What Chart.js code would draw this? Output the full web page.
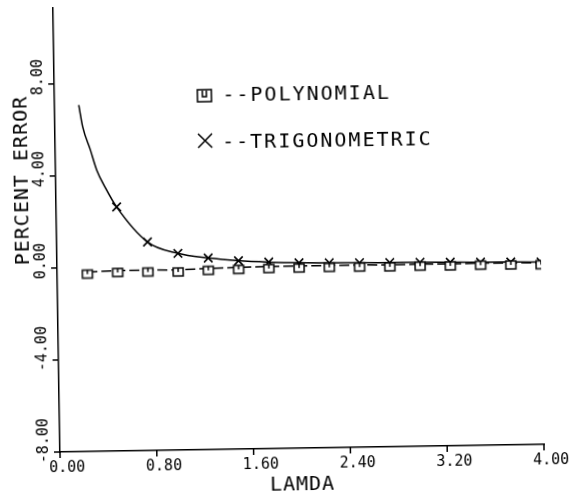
<!DOCTYPE html>
<html><head><meta charset="utf-8">
<script src="https://cdn.jsdelivr.net/npm/chart.js@4/dist/chart.umd.min.js"></script>
<style>
html,body{margin:0;padding:0;background:#fff;overflow:hidden}
#c{display:block;transform:rotate(-0.9deg);transform-origin:60px 452px}
</style>
</head><body>
<canvas id="c" width="570" height="496"></canvas>
<script>
// ---- data ----
const xTickValues = [0, 0.8, 1.6, 2.4, 3.2, 4.0];
const xTickLabels = ['0.00', '0.80', '1.60', '2.40', '3.20', '4.00'];
const yTickValues = [-8, -4, 0, 4, 8];
const yTickLabels = ['-8.00', '-4.00', '0.00', '4.00', '8.00'];

const polyX = [0.25, 0.5, 0.75, 1.0, 1.25, 1.5, 1.75, 2.0, 2.25, 2.5, 2.75, 3.0, 3.25, 3.5, 3.75, 4.0];
const polyY = [-0.20, -0.15, -0.15, -0.17, -0.12, -0.10, -0.08, -0.08, -0.07, -0.08, -0.09, -0.08, -0.09, -0.08, -0.09, -0.10];

const trigX = [0.20, 0.23, 0.29, 0.34, 0.41, 0.5, 0.75, 1.0, 1.25, 1.5, 1.75, 2.0, 2.25, 2.5, 2.75, 3.0, 3.25, 3.5, 3.75, 4.0];
const trigY = [7.07, 6.11, 5.11, 4.23, 3.45, 2.61, 1.07, 0.55, 0.33, 0.19, 0.11, 0.06, 0.04, 0.02, 0.01, 0.00, -0.02, -0.04, -0.05, -0.07];
const trigMarkerFrom = 0.5;

const seriesNames = ['POLYNOMIAL', 'TRIGONOMETRIC'];
const xTitle = 'LAMDA';
const yTitle = 'PERCENT ERROR';

// ---- marker image for the polynomial squares ----
function squareMarker() {
  const c = document.createElement('canvas');
  c.width = 14; c.height = 18;
  const g = c.getContext('2d');
  g.strokeStyle = '#000'; g.lineWidth = 1.5;
  g.fillStyle = '#fff';
  g.fillRect(2, 7, 10, 8);
  g.strokeRect(2, 7, 10, 8);
  g.beginPath(); g.moveTo(7, 7); g.lineTo(7, 11); g.stroke();
  return c;
}
const sqImg = squareMarker();

const FONT_SMALL = '15px "DejaVu Sans Mono"';
const FONT_BIG = '20px "DejaVu Sans Mono"';

const deco = {
  id: 'deco',
  afterDraw(chart) {
    const { ctx, chartArea: a, scales: { x, y } } = chart;
    ctx.save();
    ctx.strokeStyle = '#000'; ctx.fillStyle = '#000'; ctx.lineWidth = 1.5;
    ctx.font = FONT_SMALL;
    ctx.textBaseline = 'alphabetic';
    ctx.textAlign = 'left';
    // x ticks and labels
    xTickValues.forEach((v, i) => {
      const px = x.getPixelForValue(v);
      ctx.beginPath(); ctx.moveTo(px, a.bottom); ctx.lineTo(px, a.bottom + 6); ctx.stroke();
      ctx.fillText(xTickLabels[i], px - 11, a.bottom + 20);
    });
    // y ticks and labels (rotated)
    yTickValues.forEach((v, i) => {
      const py = y.getPixelForValue(v);
      ctx.beginPath(); ctx.moveTo(a.left - 6, py); ctx.lineTo(a.left, py); ctx.stroke();
      ctx.save();
      ctx.translate(a.left - 12, py);
      ctx.rotate(-Math.PI / 2);
      ctx.fillText(yTickLabels[i], -11, 0);
      ctx.restore();
    });
    // axis titles
    ctx.font = FONT_BIG;
    try { ctx.letterSpacing = '1px'; } catch (e) {}
    ctx.textAlign = 'center';
    ctx.fillText(xTitle, (a.left + a.right) / 2, 494);
    ctx.save();
    ctx.translate(32, 180);
    ctx.rotate(-Math.PI / 2);
    ctx.fillText(yTitle, 0, 0);
    ctx.restore();
    // legend
    try { ctx.letterSpacing = '2px'; } catch (e) {}
    ctx.textAlign = 'left';
    ctx.lineWidth = 1.5;
    ctx.strokeRect(203, 92, 14, 12);
    ctx.beginPath(); ctx.moveTo(208, 93); ctx.lineTo(208, 99); ctx.lineTo(212, 99); ctx.lineTo(212, 93); ctx.stroke();
    ctx.fillText('--' + seriesNames[0], 228, 104);
    ctx.beginPath();
    ctx.moveTo(203, 136); ctx.lineTo(217, 150);
    ctx.moveTo(217, 136); ctx.lineTo(203, 150);
    ctx.stroke();
    ctx.fillText('--' + seriesNames[1], 227, 150.5);
    ctx.restore();
  }
};

new Chart(document.getElementById('c'), {
  type: 'scatter',
  data: {
    datasets: [
      {
        label: seriesNames[0],
        data: polyX.map((v, i) => ({ x: v, y: polyY[i] })),
        showLine: true,
        borderColor: '#000',
        borderWidth: 1.5,
        borderDash: [10, 4],
        pointStyle: sqImg,
        pointRadius: 6,
        backgroundColor: '#fff'
      },
      {
        label: seriesNames[1],
        data: trigX.map((v, i) => ({ x: v, y: trigY[i] })),
        showLine: true,
        borderColor: '#000',
        borderWidth: 1.5,
        cubicInterpolationMode: 'monotone',
        pointStyle: 'crossRot',
        pointBorderWidth: 1.6,
        pointBorderColor: '#000',
        pointRadius: ctx => (trigX[ctx.dataIndex] >= trigMarkerFrom ? 6 : 0),
        backgroundColor: '#000'
      }
    ]
  },
  options: {
    responsive: false,
    animation: false,
    devicePixelRatio: 1,
    layout: { padding: { left: 60, right: 26, top: 8, bottom: 44 } },
    plugins: { legend: { display: false }, tooltip: { enabled: false } },
    scales: {
      x: {
        type: 'linear', min: 0, max: 4,
        ticks: { display: false },
        grid: { display: false, drawTicks: false },
        border: { display: true, color: '#000', width: 1.5 }
      },
      y: {
        type: 'linear', min: -8, max: 11.3,
        ticks: { display: false },
        grid: { display: false, drawTicks: false },
        border: { display: true, color: '#000', width: 1.5 }
      }
    }
  },
  plugins: [deco]
});
</script>
</body></html>
